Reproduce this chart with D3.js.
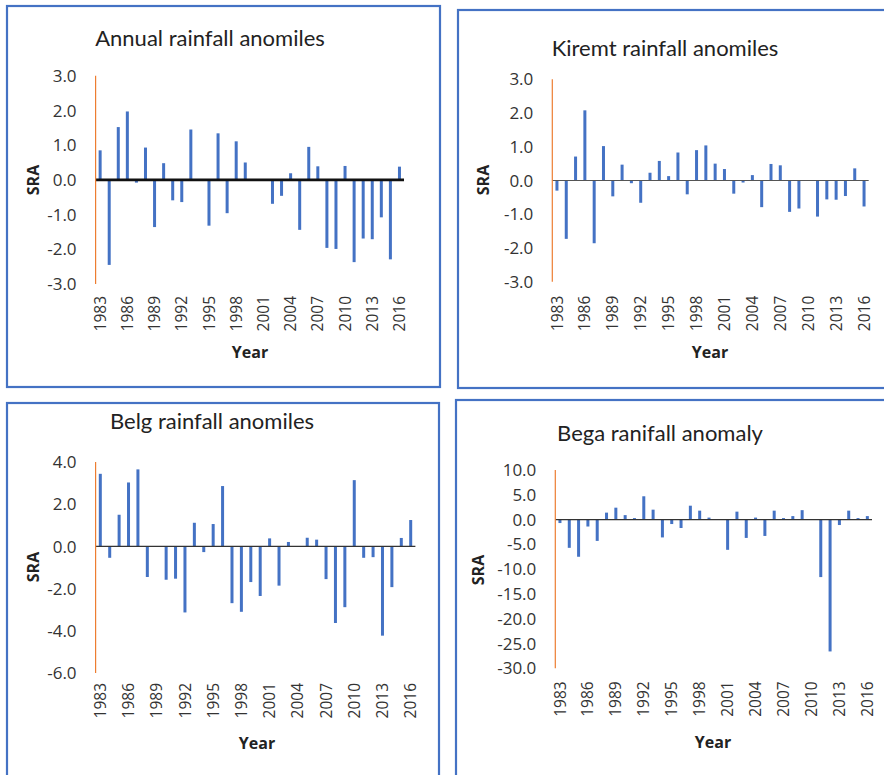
<!DOCTYPE html>
<html>
<head>
<meta charset="utf-8">
<script src="https://cdn.jsdelivr.net/npm/d3@7"></script>
<style>
  body { margin: 0; background: #fff; }
  svg { display: block; }
  .tick-y { font-family: "Open Sans", sans-serif; font-size: 17px; fill: #333; }
  .tick-x { font-family: "Open Sans", sans-serif; font-size: 15.5px; fill: #333; }
  .title { font-family: Lato, sans-serif; font-size: 22px; fill: #222; }
  .axis-title { font-family: "Open Sans", sans-serif; font-size: 16px; font-weight: bold; fill: #222; }
</style>
</head>
<body>
<div id="chart"></div>
<script>
// years shared by all four panels
const years = d3.range(1983, 2017);
const yearTicks = [1983, 1986, 1989, 1992, 1995, 1998, 2001, 2004, 2007, 2010, 2013, 2016];

// standardized rainfall anomaly values
const annualValues = [0.85, -2.45, 1.52, 1.97, -0.08, 0.93, -1.36, 0.48, -0.59, -0.64,
    1.45, -0.02, -1.32, 1.34, -0.96, 1.11, 0.50, 0.01, 0.01, -0.69,
    -0.46, 0.19, -1.44, 0.95, 0.39, -1.96, -1.99, 0.40, -2.37, -1.69,
    -1.71, -1.08, -2.29, 0.38];
const kiremtValues = [-0.30, -1.73, 0.71, 2.08, -1.86, 1.02, -0.47, 0.47, -0.08, -0.66,
    0.23, 0.58, 0.13, 0.83, -0.41, 0.90, 1.04, 0.50, 0.34, -0.39,
    -0.06, 0.16, -0.79, 0.49, 0.45, -0.93, -0.83, 0.01, -1.07, -0.56,
    -0.57, -0.46, 0.36, -0.77];
const belgValues = [3.44, -0.54, 1.50, 3.03, 3.65, -1.45, 0.01, -1.58, -1.53, -3.13,
    1.12, -0.27, 1.06, 2.86, -2.69, -3.10, -1.69, -2.35, 0.38, -1.86,
    0.21, 0.01, 0.41, 0.32, -1.55, -3.63, -2.88, 3.14, -0.54, -0.51,
    -4.23, -1.93, 0.40, 1.25];
const begaValues = [-0.7, -5.7, -7.5, -1.4, -4.3, 1.4, 2.4, 0.9, 0.3, 4.7,
    2.0, -3.6, -0.9, -1.7, 2.8, 1.8, 0.4, 0.05, -6.1, 1.6,
    -3.7, 0.4, -3.3, 1.8, 0.3, 0.7, 1.9, 0.05, -11.6, -26.6,
    -1.1, 1.8, 0.3, 0.7];

// y axis tick values per panel
const annualTicks = [3, 2, 1, 0, -1, -2, -3];
const kiremtTicks = [3, 2, 1, 0, -1, -2, -3];
const belgTicks = [4, 2, 0, -2, -4, -6];
const begaTicks = [10, 5, 0, -5, -10, -15, -20, -25, -30];

const titles = ['Annual rainfall anomiles', 'Kiremt rainfall anomiles', 'Belg rainfall anomiles', 'Bega ranifall anomaly'];

const width = 884, height = 775;
const svg = d3.select('#chart').append('svg')
    .attr('width', width)
    .attr('height', height);

svg.append('rect').attr('width', width).attr('height', height).attr('fill', '#fff');

// Excel style labels use a plain hyphen for negatives
const fmt = v => d3.format('.1f')(v).replace('\u2212', '-');

const panels = [
    { title: titles[0], values: annualValues, ticks: annualTicks,
      box: [7, 6, 433, 381], plot: [95.6, 404, 75.7, 284],
      titlePos: [210, 38], yLabelPos: [33, 180], xTitlePos: [250, 352],
      xLabelGap: 12, zeroColor: '#111', zeroWidth: 2.6 },
    { title: titles[1], values: kiremtValues, ticks: kiremtTicks,
      box: [458, 10, 440, 378], plot: [552.3, 868.7, 79.3, 281.7],
      titlePos: [665, 48], yLabelPos: [483, 180], xTitlePos: [710, 352],
      xLabelGap: 14, zeroColor: '#555', zeroWidth: 1 },
    { title: titles[2], values: belgValues, ticks: belgTicks,
      box: [7, 403, 432, 390], plot: [95.6, 415.4, 462, 673],
      titlePos: [212, 421], yLabelPos: [33, 567], xTitlePos: [257, 743],
      xLabelGap: 10, zeroColor: '#333', zeroWidth: 1.2 },
    { title: titles[3], values: begaValues, ticks: begaTicks,
      box: [456, 400, 440, 390], plot: [555.3, 872, 470, 668.3],
      titlePos: [660, 433], yLabelPos: [478, 570], xTitlePos: [713, 742],
      xLabelGap: 13, zeroColor: '#333', zeroWidth: 1.2 }
];

panels.forEach(drawPanel);

function drawPanel(p) {
    const g = svg.append('g');
    const [bx, by, bw, bh] = p.box;
    const [x0, x1, yTop, yBot] = p.plot;

    // frame
    g.append('rect')
        .attr('x', bx).attr('y', by)
        .attr('width', bw).attr('height', bh)
        .attr('fill', 'none')
        .attr('stroke', '#4472C4')
        .attr('stroke-width', 2.2);

    const x = d3.scaleBand()
        .domain(years)
        .range([x0, x1]);

    const y = d3.scaleLinear()
        .domain([d3.min(p.ticks), d3.max(p.ticks)])
        .range([yBot, yTop]);

    const barW = 3;

    // bars
    g.selectAll('rect.bar')
        .data(years.map((yr, i) => ({ year: yr, value: p.values[i] })))
        .join('rect')
        .attr('class', 'bar')
        .attr('x', d => x(d.year) + x.bandwidth() / 2 - barW / 2)
        .attr('y', d => y(Math.max(0, d.value)))
        .attr('width', barW)
        .attr('height', d => Math.abs(y(d.value) - y(0)))
        .attr('fill', '#4472C4');

    // zero line
    g.append('line')
        .attr('x1', x0).attr('x2', x1)
        .attr('y1', y(0)).attr('y2', y(0))
        .attr('stroke', p.zeroColor)
        .attr('stroke-width', p.zeroWidth);

    // orange vertical axis
    g.append('line')
        .attr('x1', x0).attr('x2', x0)
        .attr('y1', yTop).attr('y2', yBot)
        .attr('stroke', '#ED7D31')
        .attr('stroke-width', 1.2);

    // y tick labels
    g.selectAll('text.tick-y')
        .data(p.ticks)
        .join('text')
        .attr('class', 'tick-y')
        .attr('x', x0 - 19)
        .attr('y', d => y(d))
        .attr('dy', '0.36em')
        .attr('text-anchor', 'end')
        .text(fmt);

    // x tick labels, rotated
    g.selectAll('text.tick-x')
        .data(yearTicks)
        .join('text')
        .attr('class', 'tick-x')
        .attr('transform', d => `translate(${x(d) + x.bandwidth() / 2},${yBot + p.xLabelGap}) rotate(-90)`)
        .attr('dy', '0.36em')
        .attr('text-anchor', 'end')
        .text(d => d);

    // titles
    g.append('text')
        .attr('class', 'title')
        .attr('x', p.titlePos[0]).attr('y', p.titlePos[1])
        .attr('dy', '0.35em')
        .attr('text-anchor', 'middle')
        .text(p.title);

    g.append('text')
        .attr('class', 'axis-title')
        .attr('transform', `translate(${p.yLabelPos[0]},${p.yLabelPos[1]}) rotate(-90)`)
        .attr('dy', '0.35em')
        .attr('text-anchor', 'middle')
        .text('SRA');

    g.append('text')
        .attr('class', 'axis-title')
        .attr('x', p.xTitlePos[0]).attr('y', p.xTitlePos[1])
        .attr('dy', '0.35em')
        .attr('text-anchor', 'middle')
        .text('Year');
}
</script>
</body>
</html>
